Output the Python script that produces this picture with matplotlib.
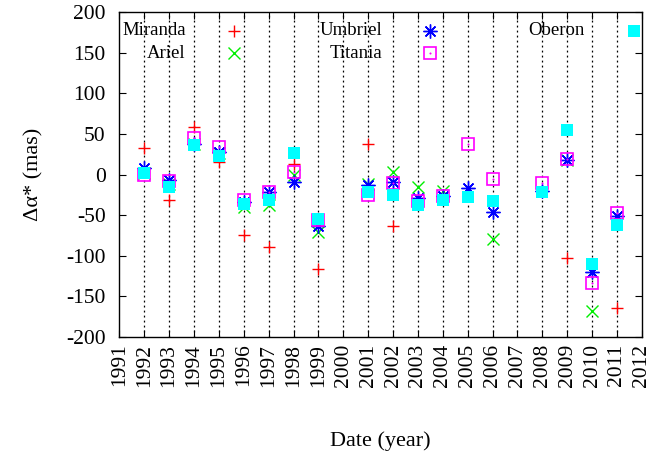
import matplotlib
matplotlib.use("Agg")
import matplotlib.pyplot as plt

plt.rcParams['font.family'] = ['Liberation Serif', 'DejaVu Serif']

# ---- data ----
mir_years = [1992, 1993, 1994, 1995, 1996, 1997, 1998, 1999, 2001, 2002, 2009, 2011]
mir_vals = [33, -32, 59, 16, -74, -89, 13, -116, 38, -63, -103, -165]

ari_years = [1992, 1993, 1994, 1995, 1996, 1997, 1998, 1999, 2001, 2002, 2003, 2004, 2006, 2009, 2010]
ari_vals = [2, -12, 38, 26, -40, -38, -1, -71, -12, 3, -15, -20, -80, 18, -168]

umb_years = [1992, 1993, 1994, 1995, 1996, 1997, 1998, 1999, 2001, 2002, 2003, 2004, 2005, 2006, 2008, 2009, 2010, 2011]
umb_vals = [8, -7, 38, 28, -34, -21, -9, -64, -13, -9, -29, -26, -17, -46, -20, 18, -120, -51]

tit_years = [1992, 1993, 1994, 1995, 1996, 1997, 1998, 1999, 2001, 2002, 2003, 2004, 2005, 2006, 2008, 2009, 2010, 2011]
tit_vals = [-1, -8, 45, 34, -31, -22, 3, -56, -25, -10, -33, -27, 38, -5, -10, 19, -134, -47]

obe_years = [1992, 1993, 1994, 1995, 1996, 1997, 1998, 1999, 2001, 2002, 2003, 2004, 2005, 2006, 2008, 2009, 2010, 2011]
obe_vals = [2, -15, 36, 23, -36, -31, 26, -55, -22, -25, -38, -32, -28, -33, -21, 55, -110, -62]

year_ticks = list(range(1991, 2013))
y_ticks = list(range(-200, 201, 50))

labels = ['Miranda', 'Ariel', 'Umbriel', 'Titania', 'Oberon']

# ---- figure ----
fig = plt.figure(figsize=(6.72, 4.61), dpi=100)
ax = fig.add_axes([0.1777, 0.2696, 0.7773, 0.7037])

TICK_FS = 15.5
LAB_FS = 16
LEG_FS = 13.5
styles = {
    'Miranda': dict(marker='+', color='#ff0000', ms=9.2, mew=1.0, ls='none'),
    'Ariel': dict(marker='x', color='#00ee00', ms=9.0, mew=1.0, ls='none'),
    'Umbriel': dict(marker=(8, 2, 0), color='#0000ff', ms=10, mew=1.0, ls='none'),
    'Titania': dict(marker='s', color='#ff00ff', ms=9.0, mew=1.2, mfc='none', ls='none'),
    'Oberon': dict(marker='s', color='#00ffff', ms=8.8, mew=0, ls='none'),
}

ax.plot(mir_years, mir_vals, zorder=3, **styles['Miranda'])
ax.plot(ari_years, ari_vals, zorder=3, **styles['Ariel'])
ax.plot(umb_years, umb_vals, zorder=3, **styles['Umbriel'])
ax.plot(tit_years, tit_vals, zorder=3, **styles['Titania'])
ax.plot(tit_years, tit_vals, ls='none', marker='o', ms=1.5, mew=0, color='#ff00ff', zorder=3)
ax.plot(obe_years, obe_vals, zorder=4, **styles['Oberon'])

ax.set_xlim(1991, 2012)
ax.set_ylim(-200, 200)
ax.set_xticks(year_ticks)
ax.set_xticklabels([str(y) for y in year_ticks], rotation=90, fontsize=TICK_FS)
ax.set_yticks(y_ticks)
ax.set_yticklabels([str(v) for v in y_ticks], fontsize=TICK_FS)
ax.tick_params(direction='in', top=True, right=True, length=5, width=0.8)
ax.tick_params(axis='y', pad=10)
ax.tick_params(axis='x', pad=5)

for y in year_ticks[1:-1]:
    ax.axvline(y, color='black', lw=0.9, ls=(0, (1.5, 2.5)), zorder=1)

for s in ax.spines.values():
    s.set_linewidth(1.0)

ax.set_ylabel('Δα* (mas)', fontsize=LAB_FS, labelpad=16)
ax.set_xlabel('Date (year)', fontsize=LAB_FS, labelpad=32)

# ---- legend (gnuplot style: right-aligned text then marker) ----
text_x = [0.1267, 0.1267, 0.5028, 0.5028, 0.8904]
mark_x = [0.2194, 0.2194, 0.5947, 0.5947, 0.9861]
row_y = [0.9433, 0.8736, 0.9433, 0.8736, 0.9433]
for lab, tx, mx, ry in zip(labels, text_x, mark_x, row_y):
    ax.text(tx, ry, lab, transform=ax.transAxes, ha='right', va='center', fontsize=LEG_FS)
    ax.plot([mx], [ry], transform=ax.transAxes, clip_on=False, zorder=5, **styles[lab])
    if lab == 'Titania':
        ax.plot([mx], [ry], transform=ax.transAxes, marker='o', ms=1.5, mew=0,
                color='#ff00ff', ls='none', zorder=5)

fig.savefig('out.png', dpi=100)
